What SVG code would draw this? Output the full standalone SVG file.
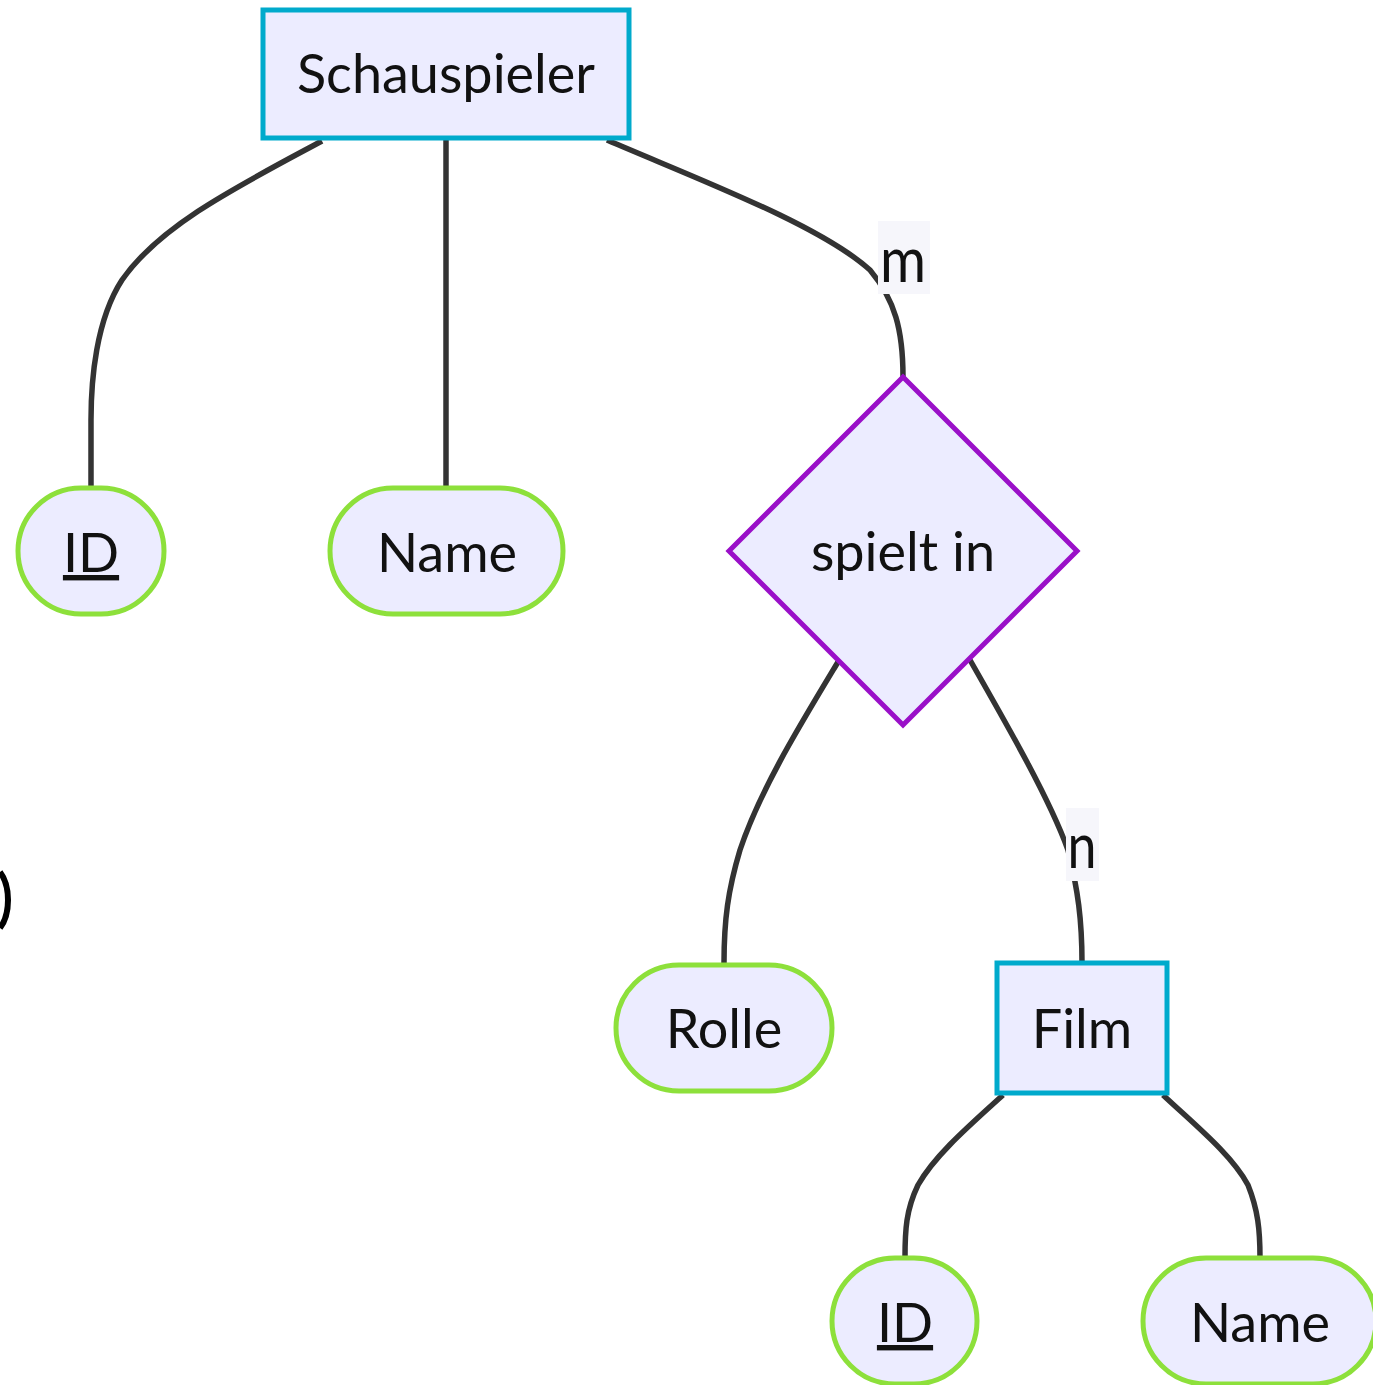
<svg xmlns="http://www.w3.org/2000/svg" width="1373" height="1385" viewBox="0 0 1373 1385">
<style>
.entity{fill:#ECECFF;stroke:#00AACC;stroke-width:5}
.attr{fill:#ECECFF;stroke:#8DE03B;stroke-width:5}
.rel{fill:#ECECFF;stroke:#9A10C8;stroke-width:5}
.edge{fill:none;stroke:#333333;stroke-width:5.5}
.lbl{font-family:"Lato","Open Sans","DejaVu Sans",sans-serif;font-size:54px;fill:#111111;text-anchor:middle}
.elbl{font-family:"Lato","Open Sans","DejaVu Sans",sans-serif;font-size:62px;fill:#111111;text-anchor:middle}
.lblbg{fill:#F6F6FB}
</style>
<rect width="1373" height="1385" fill="#FFFFFF"/>
<g id="connectors">
<path class="edge" d="M322,141 C240,185 160,225 122,280 C96,320 91,380 91,420 L91,488"/>
<path class="edge" d="M446,140 L446,488"/>
<path class="edge" d="M607,140 C700,180 820,225 870,270 C895,300 903,330 903,377"/>
<path class="edge" d="M838,662 C800,725 760,790 740,850 C728,890 724,920 724,963"/>
<path class="edge" d="M970,660 C1010,730 1050,800 1068,850 C1078,890 1082,920 1082,963"/>
<path class="edge" d="M1003,1095 C970,1125 935,1155 918,1185 C906,1210 905,1230 905,1258"/>
<path class="edge" d="M1163,1095 C1195,1125 1232,1155 1248,1185 C1258,1210 1260,1230 1260,1258"/>
<g id="label-m"><rect class="lblbg" x="878" y="221" width="52" height="73"/><text class="elbl" x="903" y="282" textLength="46" lengthAdjust="spacingAndGlyphs">m</text></g>
<g id="label-n"><rect class="lblbg" x="1066" y="808" width="33" height="73"/><text class="elbl" x="1082" y="868" textLength="29" lengthAdjust="spacingAndGlyphs">n</text></g>
</g>
<g id="node-schauspieler"><rect class="entity" x="263" y="10" width="366" height="128"/><text class="lbl" x="446" y="93">Schauspieler</text></g>
<g id="node-id1"><rect class="attr" x="18" y="488" width="146" height="126" rx="63" ry="63"/><text class="lbl" x="91" y="572" text-decoration="underline">ID</text></g>
<g id="node-name1"><rect class="attr" x="330" y="488" width="233" height="126" rx="63" ry="63"/><text class="lbl" x="447" y="572">Name</text></g>
<g id="node-spieltin"><polygon class="rel" points="903,377 1077,551 903,725 729,551"/><text class="lbl" x="903" y="571">spielt in</text></g>
<g id="node-rolle"><rect class="attr" x="616" y="965" width="216" height="126" rx="63" ry="63"/><text class="lbl" x="724" y="1048">Rolle</text></g>
<g id="node-film"><rect class="entity" x="997" y="963" width="170" height="130"/><text class="lbl" x="1082" y="1048">Film</text></g>
<g id="node-id2"><rect class="attr" x="832" y="1258" width="145" height="126" rx="63" ry="63"/><text class="lbl" x="905" y="1342" text-decoration="underline">ID</text></g>
<g id="node-name2"><rect class="attr" x="1143" y="1258" width="233" height="126" rx="63" ry="63"/><text class="lbl" x="1260" y="1342">Name</text></g>
<path d="M0,872 A20,35 0 0 1 0,928" fill="none" stroke="#000000" stroke-width="6"/>
</svg>
